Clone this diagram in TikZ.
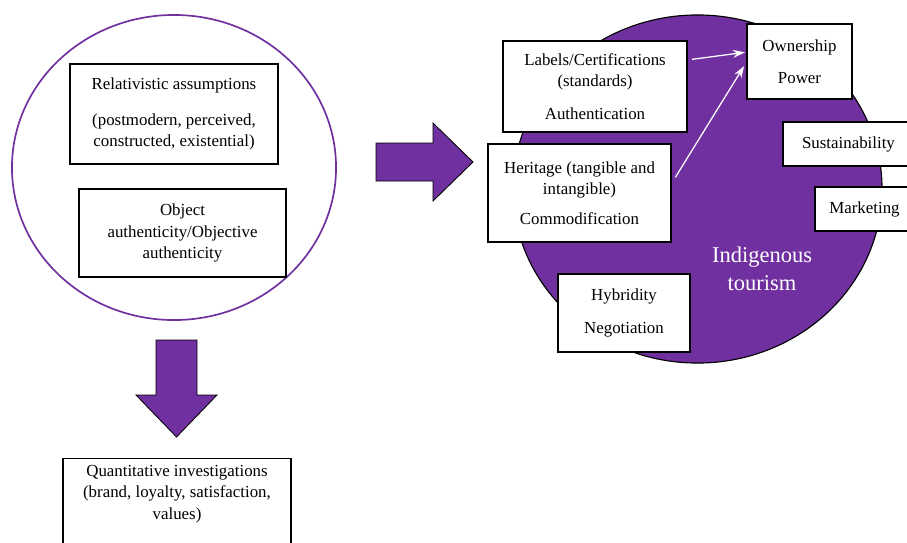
\documentclass[tikz,border=0pt]{standalone}
\usepackage{fontspec}
\setmainfont{Liberation Serif}
\usepackage{xcolor}
\usepackage{tikz}
\usetikzlibrary{arrows.meta,positioning,calc,shapes.geometric}

\definecolor{purp}{HTML}{7030A0}

\begin{document}
\begin{tikzpicture}[
    x=0.025cm, y=-0.025cm,
    box/.style={draw, line width=0.9pt, fill=white, inner sep=0pt, align=center, font=\fontsize{12}{15}\selectfont},
    bigarrow/.style={draw=black, line width=0.6pt, fill=purp, line join=miter},
    whitearrow/.style={-{Stealth[length=3mm, width=2mm]}, draw=white, line width=0.9pt},
]
    \useasboundingbox (0,0) rectangle (907,542);
    \clip (0,0) rectangle (907,542);

    % Left circle
    \node[ellipse, draw=purp, line width=1.2pt, minimum width=8.1cm, minimum height=7.625cm] (authcirc) at (174,167.5) {};
    \node[box, minimum width=5.2cm, minimum height=2.5cm] (relative) at (174,114)
        {Relativistic assumptions\\[10pt](postmodern, perceived,\\constructed, existential)};
    \node[box, minimum width=5.175cm, minimum height=2.2cm] (object) at (182.5,233)
        {Object\\authenticity/Objective\\authenticity};

    % Right circle
    \node[ellipse, draw=black, line width=0.8pt, fill=purp, minimum width=9.225cm, minimum height=8.7cm] (tourcirc) at (697.5,189) {};
    \node[text=white, align=center, font=\fontsize{16}{20}\selectfont] (indig) at (762,269) {Indigenous\\tourism};
    \node[box, minimum width=4.6cm, minimum height=2.275cm] (labels) at (595,86.5)
        {Labels/Certifications\\(standards)\\[8pt]Authentication};
    \node[box, minimum width=2.625cm, minimum height=1.875cm] (owner) at (799.5,61.5)
        {Ownership\\[8pt]Power};
    \node[box, minimum width=3.275cm, minimum height=1.1cm] (sustain) at (848.5,144) {Sustainability};
    \node[box, minimum width=2.475cm, minimum height=1.1cm] (market) at (864.5,209) {Marketing};
    \node[box, minimum width=4.575cm, minimum height=2.45cm] (heritage) at (579.5,193)
        {Heritage (tangible and\\intangible)\\[6pt]Commodification};
    \node[box, minimum width=3.3cm, minimum height=1.95cm] (hybrid) at (624,313)
        {Hybridity\\[8pt]Negotiation};

    % Bottom box
    \node[box, anchor=north, minimum width=5.7cm, inner ysep=5pt, text depth=40pt] (quant) at (177,458)
        {Quantitative investigations\\(brand, loyalty, satisfaction,\\values)};

    % Block arrows
    \draw[bigarrow] (376,143) -- (433,143) -- (433,123) -- (473,162) -- (433,201) -- (433,181) -- (376,181) -- cycle;
    \draw[bigarrow] (156,340) -- (197,340) -- (197,395) -- (217,395) -- (176.5,437) -- (136,395) -- (156,395) -- cycle;

    % White arrows
    \draw[whitearrow, shorten <=3pt, shorten >=1pt] (labels.16) -- (owner.170);
    \draw[whitearrow, shorten <=5pt, shorten >=3pt] (heritage.6) -- (owner.181);
\end{tikzpicture}
\end{document}
